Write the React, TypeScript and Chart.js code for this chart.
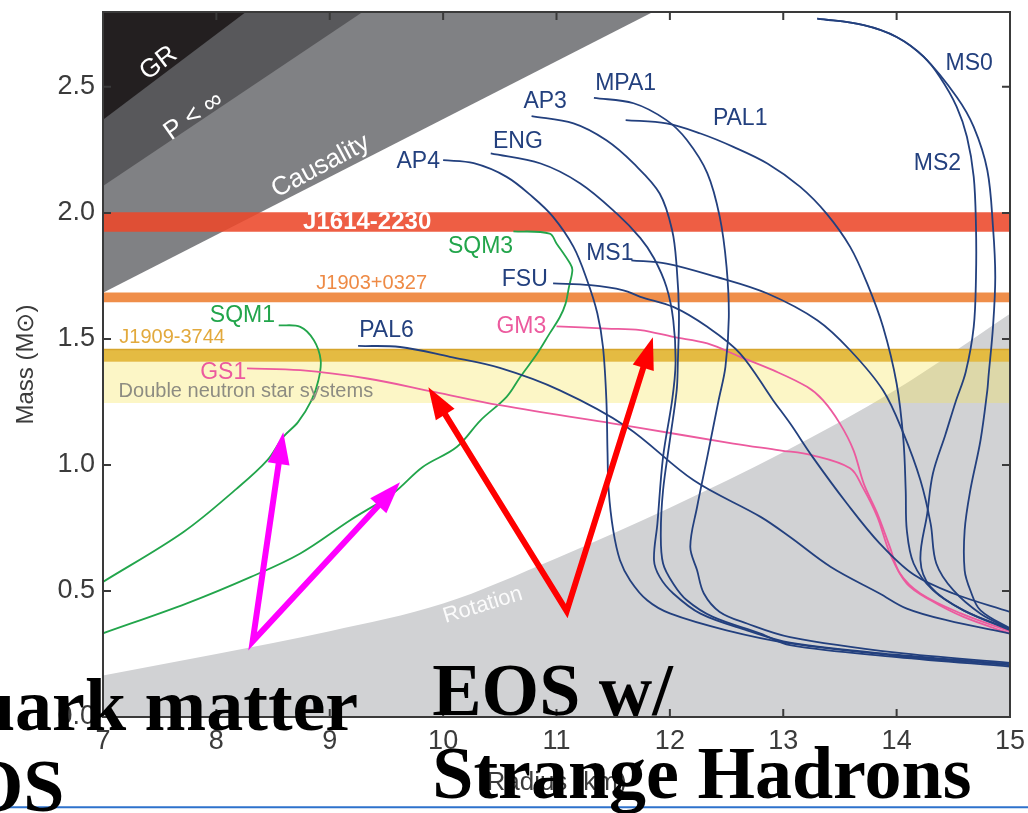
import React, { useEffect, useRef } from "react";
import { Chart, registerables } from "chart.js";

Chart.register(...registerables);

type Pt = [number, number];

// ---------- axes ----------
const X_MIN = 7;
const X_MAX = 15;
const Y_MIN = 0;
const Y_MAX = 2.797;
const X_TICKS = [7, 8, 9, 10, 11, 12, 13, 14, 15];
const Y_TICKS = [0, 0.5, 1.0, 1.5, 2.0, 2.5];

// ---------- mass-radius curves (radius km, mass Msun) ----------
const AP4: Pt[] = [[10.0, 2.209], [10.27, 2.197], [10.56, 2.143], [10.79, 2.063], [10.97, 1.984], [11.15, 1.865], [11.27, 1.733], [11.36, 1.602], [11.41, 1.468], [11.44, 1.257], [11.45, 1.05], [11.46, 0.9], [11.5, 0.741], [11.56, 0.622], [11.65, 0.542], [11.8, 0.463], [12.0, 0.411], [12.5, 0.344], [13.06, 0.292], [14.0, 0.243], [15.0, 0.205]];
const ENG: Pt[] = [[10.42, 2.236], [10.86, 2.196], [11.21, 2.117], [11.53, 1.998], [11.74, 1.9], [11.86, 1.82], [11.97, 1.706], [12.03, 1.574], [12.05, 1.402], [12.02, 1.257], [11.94, 1.032], [11.89, 0.767], [11.86, 0.622], [11.91, 0.556], [12.03, 0.49], [12.27, 0.41], [12.68, 0.344], [13.06, 0.295], [14.0, 0.247], [15.0, 0.21]];
const AP3: Pt[] = [[10.78, 2.384], [11.15, 2.355], [11.44, 2.288], [11.68, 2.196], [11.91, 2.077], [12.02, 1.931], [12.06, 1.786], [12.08, 1.601], [12.07, 1.402], [12.06, 1.296], [12.0, 1.098], [11.94, 0.9], [11.92, 0.728], [11.94, 0.609], [12.03, 0.529], [12.15, 0.463], [12.38, 0.397], [12.8, 0.331], [13.06, 0.285], [14.0, 0.238], [15.0, 0.2]];
const MPA1: Pt[] = [[11.33, 2.456], [11.68, 2.435], [11.97, 2.368], [12.15, 2.289], [12.33, 2.158], [12.44, 1.984], [12.5, 1.786], [12.52, 1.587], [12.49, 1.389], [12.43, 1.257], [12.33, 1.032], [12.24, 0.833], [12.18, 0.675], [12.24, 0.582], [12.3, 0.49], [12.44, 0.417], [12.68, 0.371], [13.06, 0.317], [14.0, 0.255], [15.0, 0.215]];
const PAL1: Pt[] = [[11.61, 2.368], [11.97, 2.355], [12.27, 2.315], [12.56, 2.262], [12.86, 2.196], [13.15, 2.103], [13.38, 1.998], [13.59, 1.865], [13.74, 1.72], [13.88, 1.548], [14.0, 1.323], [14.06, 1.098], [14.08, 0.9], [14.09, 0.741], [14.15, 0.609], [14.32, 0.503], [14.59, 0.423], [15.0, 0.344]];
const MS1: Pt[] = [[11.66, 1.812], [11.97, 1.799], [12.41, 1.746], [12.86, 1.68], [13.3, 1.574], [13.59, 1.455], [13.88, 1.296], [14.06, 1.125], [14.21, 0.939], [14.3, 0.767], [14.35, 0.609], [14.5, 0.503], [14.74, 0.41], [15.0, 0.35]];
const MS2: Pt[] = [[13.3, 2.771], [13.71, 2.745], [14.0, 2.698], [14.24, 2.619], [14.38, 2.54], [14.53, 2.421], [14.62, 2.302], [14.68, 2.143], [14.7, 1.944], [14.7, 1.746], [14.68, 1.548], [14.61, 1.37], [14.52, 1.25], [14.43, 1.12], [14.32, 0.966], [14.27, 0.807], [14.21, 0.622], [14.3, 0.516], [14.59, 0.423], [15.03, 0.344]];
const MS0: Pt[] = [[13.3, 2.771], [13.71, 2.745], [14.0, 2.698], [14.24, 2.619], [14.53, 2.46], [14.68, 2.341], [14.8, 2.169], [14.85, 1.944], [14.87, 1.746], [14.85, 1.548], [14.81, 1.349], [14.8, 1.296], [14.74, 1.098], [14.65, 0.9], [14.6, 0.741], [14.6, 0.582], [14.65, 0.503], [14.74, 0.423], [15.03, 0.344]];
const FSU: Pt[] = [[10.97, 1.72], [11.3, 1.713], [11.59, 1.693], [11.74, 1.667], [12.03, 1.627], [12.33, 1.548], [12.62, 1.442], [12.91, 1.257], [13.06, 1.165], [13.26, 1.031], [13.56, 0.848], [13.85, 0.689], [14.15, 0.565], [14.5, 0.49], [15.0, 0.417]];
const PAL6: Pt[] = [[9.25, 1.472], [9.62, 1.468], [10.06, 1.429], [10.5, 1.385], [11.03, 1.296], [11.62, 1.151], [12.21, 0.939], [12.8, 0.794], [13.06, 0.714], [13.42, 0.595], [13.85, 0.49], [14.09, 0.43], [14.44, 0.384], [15.0, 0.331]];
const GS1: Pt[] = [[8.27, 1.383], [8.74, 1.376], [9.33, 1.343], [9.92, 1.29], [10.5, 1.237], [11.68, 1.151], [12.56, 1.085], [12.97, 1.058], [13.26, 1.038], [13.59, 0.987], [13.7, 0.912], [13.83, 0.794], [13.94, 0.65], [14.09, 0.529], [14.3, 0.463], [14.59, 0.397], [15.0, 0.331]];
const GM3: Pt[] = [[11.0, 1.55], [11.44, 1.541], [11.74, 1.535], [12.03, 1.508], [12.33, 1.482], [12.62, 1.429], [12.91, 1.376], [13.21, 1.31], [13.35, 1.257], [13.5, 1.164], [13.62, 1.058], [13.71, 0.926], [13.83, 0.807], [13.94, 0.675], [14.03, 0.569], [14.21, 0.49], [14.56, 0.412], [15.0, 0.34]];
const SQM1: Pt[] = [[8.55, 1.554], [8.74, 1.548], [8.86, 1.495], [8.92, 1.416], [8.9, 1.336], [8.84, 1.257], [8.72, 1.17], [8.59, 1.111], [8.45, 1.019], [8.18, 0.906], [7.71, 0.734], [7.0, 0.536]];
const SQM3: Pt[] = [[10.62, 1.927], [10.94, 1.918], [11.0, 1.879], [11.12, 1.799], [11.14, 1.773], [11.11, 1.706], [11.08, 1.64], [11.03, 1.587], [10.94, 1.522], [10.83, 1.442], [10.68, 1.349], [10.56, 1.27], [10.33, 1.177], [10.12, 1.071], [9.82, 0.992], [9.56, 0.888], [9.18, 0.781], [8.74, 0.649], [8.3, 0.555], [7.74, 0.451], [7.0, 0.332]];

// ---------- excluded regions (edges) ----------
const GR_EDGE: Pt[] = [[7, 2.37], [8.26, 2.797]];
const PINF_EDGE: Pt[] = [[7, 2.107], [9.29, 2.797]];
const CAUSALITY_EDGE: Pt[] = [[7, 1.683], [11.85, 2.797]];
const ROTATION_EDGE: Pt[] = [[7, 0.165], [8, 0.25], [9, 0.34], [10, 0.45], [11, 0.63], [12, 0.83], [13, 1.05], [14, 1.3], [15, 1.6]];

// ---------- measured pulsar mass bands [low, high] ----------
const J1614_BAND = [1.925, 2.003];
const J1903_BAND = [1.645, 1.684];
const J1909_BAND = [1.409, 1.458];
const DNS_BAND = [1.246, 1.409];

// ---------- colours ----------
const NAVY = "#23407e";
const GREEN = "#22a54b";
const PINK = "#ec5a9e";

const CURVES: { name: string; pts: Pt[]; color: string }[] = [
  { name: "AP4", pts: AP4, color: NAVY },
  { name: "ENG", pts: ENG, color: NAVY },
  { name: "AP3", pts: AP3, color: NAVY },
  { name: "MPA1", pts: MPA1, color: NAVY },
  { name: "PAL1", pts: PAL1, color: NAVY },
  { name: "MS1", pts: MS1, color: NAVY },
  { name: "MS2", pts: MS2, color: NAVY },
  { name: "MS0", pts: MS0, color: NAVY },
  { name: "FSU", pts: FSU, color: NAVY },
  { name: "PAL6", pts: PAL6, color: NAVY },
  { name: "GS1", pts: GS1, color: PINK },
  { name: "GM3", pts: GM3, color: PINK },
  { name: "SQM1", pts: SQM1, color: GREEN },
  { name: "SQM3", pts: SQM3, color: GREEN },
];

// label anchors (data units, text centre)
const CURVE_LABELS = [
  { text: "AP4", r: 9.78, m: 2.205, color: NAVY },
  { text: "ENG", r: 10.66, m: 2.281, color: NAVY },
  { text: "AP3", r: 10.9, m: 2.443, color: NAVY },
  { text: "MPA1", r: 11.61, m: 2.511, color: NAVY },
  { text: "PAL1", r: 12.62, m: 2.372, color: NAVY },
  { text: "MS0", r: 14.64, m: 2.594, color: NAVY },
  { text: "MS2", r: 14.36, m: 2.197, color: NAVY },
  { text: "MS1", r: 11.47, m: 1.84, color: NAVY },
  { text: "FSU", r: 10.72, m: 1.737, color: NAVY },
  { text: "GM3", r: 10.69, m: 1.55, color: PINK },
  { text: "PAL6", r: 9.5, m: 1.531, color: NAVY },
  { text: "SQM1", r: 8.23, m: 1.594, color: GREEN },
  { text: "SQM3", r: 10.33, m: 1.868, color: GREEN },
  { text: "GS1", r: 8.06, m: 1.368, color: PINK },
];
const BAND_LABELS = [
  { text: "J1909-3744", r: 7.61, m: 1.507, color: "#e2a93c", size: 20, bold: false },
  { text: "J1903+0327", r: 9.37, m: 1.721, color: "#ee8a45", size: 20, bold: false },
  { text: "Double neutron star systems", r: 8.26, m: 1.293, color: "#8d8c82", size: 20, bold: false },
  { text: "J1614-2230", r: 9.33, m: 1.963, color: "#ffffff", size: 24, bold: true },
];
const REGION_LABELS = [
  { text: "GR", r: 7.49, m: 2.594, angle: -37, size: 26, color: "#ffffff" },
  { text: "P < \u221e", r: 7.8, m: 2.384, angle: -35, size: 26, color: "#ffffff" },
  { text: "Causality", r: 8.92, m: 2.185, angle: -28, size: 26, color: "#ffffff" },
  { text: "Rotation", r: 10.35, m: 0.443, angle: -17, size: 22, color: "rgba(255,255,255,0.9)" },
];

// slide annotations (data units)
const MAGENTA_TAIL: Pt = [8.32, 0.3];
const MAGENTA_HEADS: Pt[] = [[8.59, 1.13], [9.62, 0.931]];
const RED_TAIL: Pt = [11.09, 0.42];
const RED_HEADS: Pt[] = [[9.87, 1.308], [11.85, 1.507]];
const OVERLAY_TEXT = [
  { lines: ["Quark matter", "EOS"], anchorR: 9.251, base: [-0.053, -0.374], alignRight: true },
  { lines: ["EOS w/", "Strange Hadrons"], anchorR: 9.904, base: [0.007, -0.323], alignRight: false },
];
const SLIDE_RULE_M = -0.358;

const SANS = "'Liberation Sans', Arial, Helvetica, sans-serif";

function drawArrows(ctx: CanvasRenderingContext2D, tail: number[], heads: number[][], color: string) {
  const headLen = 32;
  const half = 11;
  const ends = heads.map((h) => {
    const dx = h[0] - tail[0], dy = h[1] - tail[1];
    const L = Math.hypot(dx, dy);
    return [h[0] - (dx / L) * headLen * 0.85, h[1] - (dy / L) * headLen * 0.85];
  });
  ctx.save();
  ctx.strokeStyle = color;
  ctx.fillStyle = color;
  ctx.lineWidth = 6;
  ctx.lineJoin = "miter";
  ctx.lineCap = "butt";
  ctx.beginPath();
  ctx.moveTo(ends[0][0], ends[0][1]);
  ctx.lineTo(tail[0], tail[1]);
  ctx.lineTo(ends[1][0], ends[1][1]);
  ctx.stroke();
  heads.forEach((h) => {
    const dx = h[0] - tail[0], dy = h[1] - tail[1];
    const L = Math.hypot(dx, dy);
    const ux = dx / L, uy = dy / L;
    const bx = h[0] - ux * headLen, by = h[1] - uy * headLen;
    ctx.beginPath();
    ctx.moveTo(h[0], h[1]);
    ctx.lineTo(bx - uy * half, by + ux * half);
    ctx.lineTo(bx + uy * half, by - ux * half);
    ctx.closePath();
    ctx.fill();
  });
  ctx.restore();
}

const decorPlugin = {
  id: "decor",
  afterDatasetsDraw(chart: any) {
    const ctx: CanvasRenderingContext2D = chart.ctx;
    const xs = chart.scales.x, ys = chart.scales.y;
    const X = (r: number) => xs.getPixelForValue(r);
    const Y = (m: number) => ys.getPixelForValue(m);
    const ca = chart.chartArea;
    ctx.save();
    ctx.textAlign = "center";
    ctx.textBaseline = "middle";
    for (const l of REGION_LABELS) {
      ctx.save();
      ctx.translate(X(l.r), Y(l.m));
      ctx.rotate((l.angle * Math.PI) / 180);
      ctx.font = `${l.size}px ${SANS}`;
      ctx.fillStyle = l.color;
      ctx.fillText(l.text, 0, 0);
      ctx.restore();
    }
    for (const l of BAND_LABELS) {
      ctx.font = `${l.bold ? "bold " : ""}${l.size}px ${SANS}`;
      ctx.fillStyle = l.color;
      ctx.fillText(l.text, X(l.r), Y(l.m));
    }
    ctx.font = `23px ${SANS}`;
    for (const l of CURVE_LABELS) {
      ctx.fillStyle = l.color;
      ctx.fillText(l.text, X(l.r), Y(l.m));
    }
    // frame
    ctx.strokeStyle = "#3a3a3a";
    ctx.lineWidth = 2;
    ctx.strokeRect(ca.left, ca.top, ca.right - ca.left, ca.bottom - ca.top);
    // inward tick marks on all four sides
    ctx.beginPath();
    for (const v of X_TICKS) {
      const x = X(v);
      ctx.moveTo(x, ca.bottom); ctx.lineTo(x, ca.bottom - 8);
      ctx.moveTo(x, ca.top); ctx.lineTo(x, ca.top + 8);
    }
    for (const v of Y_TICKS) {
      const y = Y(v);
      ctx.moveTo(ca.left, y); ctx.lineTo(ca.left + 8, y);
      ctx.moveTo(ca.right, y); ctx.lineTo(ca.right - 8, y);
    }
    ctx.stroke();
    ctx.restore();
  },
  afterDraw(chart: any) {
    const ctx: CanvasRenderingContext2D = chart.ctx;
    const xs = chart.scales.x, ys = chart.scales.y;
    const X = (r: number) => xs.getPixelForValue(r);
    const Y = (m: number) => ys.getPixelForValue(m);
    ctx.save();
    // slide rule line
    ctx.strokeStyle = "#2e72cc";
    ctx.lineWidth = 2;
    ctx.beginPath();
    ctx.moveTo(0, Y(SLIDE_RULE_M));
    ctx.lineTo(chart.width, Y(SLIDE_RULE_M));
    ctx.stroke();
    // arrows
    drawArrows(ctx, [X(MAGENTA_TAIL[0]), Y(MAGENTA_TAIL[1])], MAGENTA_HEADS.map((h) => [X(h[0]), Y(h[1])]), "#ff00ff");
    drawArrows(ctx, [X(RED_TAIL[0]), Y(RED_TAIL[1])], RED_HEADS.map((h) => [X(h[0]), Y(h[1])]), "#ff0000");
    // overlay slide text
    ctx.font = "bold 74px 'Liberation Serif', 'Times New Roman', serif";
    ctx.fillStyle = "#000000";
    ctx.textBaseline = "alphabetic";
    ctx.textAlign = "left";
    for (const t of OVERLAY_TEXT) {
      let left = X(t.anchorR);
      if (t.alignRight) left -= ctx.measureText(t.lines[0]).width;
      t.lines.forEach((line, i) => ctx.fillText(line, left, Y(t.base[i])));
    }
    ctx.restore();
  },
};

function toXY(pts: Pt[]) {
  return pts.map(([x, y]) => ({ x, y }));
}

function zeroPad(s: any) {
  s.paddingTop = 0;
  s.paddingBottom = 0;
  s.paddingLeft = 0;
  s.paddingRight = 0;
}

export default function App() {
  const ref = useRef<HTMLCanvasElement | null>(null);
  useEffect(() => {
    if (!ref.current) return;
    const edge = (pts: Pt[], fill: any, color: string, order: number, extra: any = {}) => ({
      data: toXY(pts),
      borderWidth: 0,
      borderColor: "transparent",
      backgroundColor: color,
      pointRadius: 0,
      fill,
      tension: 0,
      order,
      clip: 0,
      ...extra,
    });
    const band = (b: number[], color: string, order: number, extra: any = {}) =>
      edge([[X_MIN, b[1]], [X_MAX, b[1]]], { value: b[0] }, color, order, extra);

    const datasets: any[] = [
      edge(ROTATION_EDGE, "origin", "#d1d2d4", 20, { cubicInterpolationMode: "monotone" }),
      edge(CAUSALITY_EDGE, "end", "#808184", 19),
      edge(PINF_EDGE, "end", "#58585b", 18),
      edge(GR_EDGE, "end", "#231f20", 17),
      band(DNS_BAND, "rgba(246,227,83,0.33)", 16),
      band(J1909_BAND, "#e4bb42", 15, { borderWidth: 1.5, borderColor: "#d6a52c" }),
      band(J1903_BAND, "rgba(238,136,64,0.95)", 14),
      band(J1614_BAND, "rgba(236,72,42,0.88)", 13),
      ...CURVES.map((c) => ({
        label: c.name,
        data: toXY(c.pts),
        borderColor: c.color,
        borderWidth: 1.8,
        pointRadius: 0,
        fill: false,
        tension: 0.35,
        order: 1,
        clip: 0,
      })),
    ];

    const chart = new Chart(ref.current, {
      type: "line",
      data: { datasets },
      plugins: [decorPlugin],
      options: {
        responsive: false,
        animation: false,
        events: [],
        layout: { padding: { left: 0, right: 18, top: 12, bottom: 0 } },
        plugins: { legend: { display: false }, tooltip: { enabled: false } },
        scales: {
          x: {
            type: "linear",
            min: X_MIN,
            max: X_MAX,
            afterFit: (s: any) => { s.height = 96; zeroPad(s); },
            afterBuildTicks: (s: any) => { s.ticks = X_TICKS.map((v) => ({ value: v })); },
            grid: { display: false, drawTicks: false },
            border: { display: false },
            ticks: { autoSkip: false, padding: 8, color: "#3b3b3b", font: { family: SANS, size: 27 }, callback: (v: any) => String(v) },
            title: { display: true, text: "Radius (km)", color: "#3b3b3b", font: { family: SANS, size: 26 }, padding: { top: 0, bottom: 15 } },
          },
          y: {
            type: "linear",
            min: Y_MIN,
            max: Y_MAX,
            afterFit: (s: any) => { s.width = 103; zeroPad(s); },
            afterBuildTicks: (s: any) => { s.ticks = Y_TICKS.map((v) => ({ value: v })); },
            grid: { display: false, drawTicks: false },
            border: { display: false },
            ticks: { autoSkip: false, padding: 8, color: "#3b3b3b", font: { family: SANS, size: 27 }, callback: (v: any) => Number(v).toFixed(1) },
            title: { display: true, text: "Mass (M\u2299)", color: "#3b3b3b", font: { family: SANS, size: 24 }, padding: { top: 12, bottom: 0 } },
          },
        },
      } as any,
    });
    return () => chart.destroy();
  }, []);
  return (
    <div style={{ position: "absolute", left: 0, top: 0, width: 1028, height: 813, background: "#ffffff", overflow: "hidden" }}>
      <canvas ref={ref} width={1028} height={813} style={{ display: "block" }} />
    </div>
  );
}
